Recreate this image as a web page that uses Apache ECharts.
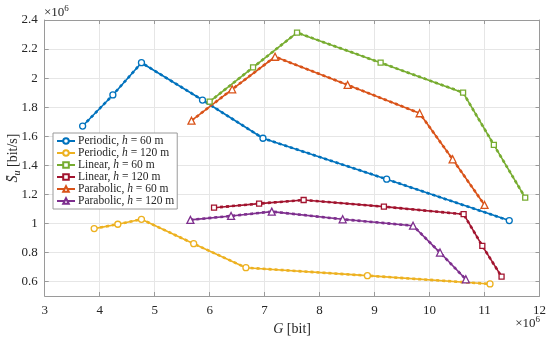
<!DOCTYPE html>
<html><head><meta charset="utf-8">
<script src="https://cdn.jsdelivr.net/npm/echarts@6/dist/echarts.min.js"></script>
<style>html,body{margin:0;padding:0;background:#fff}#c{width:550px;height:338px}</style>
</head><body><div id="c"></div>
<script>
// Values in units of 10^6 (G in bit, S_u in bit/s)
const seriesNames = ['Periodic, h = 60 m','Periodic, h = 120 m','Linear, h = 60 m','Linear, h = 120 m','Parabolic, h = 60 m','Parabolic, h = 120 m'];
const periodic60X = [3.69,4.24,4.76,5.87,6.97,9.22,11.45];
const periodic60Y = [1.670,1.884,2.106,1.849,1.586,1.304,1.019];
const periodic120X = [3.90,4.33,4.76,5.71,6.66,8.87,11.10];
const periodic120Y = [0.964,0.994,1.028,0.860,0.695,0.640,0.583];
const linear60X = [6.00,6.79,7.59,9.11,10.61,11.17,11.74];
const linear60Y = [1.838,2.074,2.313,2.106,1.900,1.540,1.177];
const linear120X = [6.08,6.90,7.71,9.17,10.62,10.96,11.31];
const linear120Y = [1.108,1.136,1.161,1.115,1.063,0.845,0.633];
const parabolic60X = [5.67,6.41,7.19,8.51,9.82,10.42,11.00];
const parabolic60Y = [1.707,1.923,2.147,1.953,1.758,1.441,1.127];
const parabolic120X = [5.65,6.39,7.13,8.42,9.70,10.19,10.66];
const parabolic120Y = [1.024,1.051,1.081,1.028,0.984,0.799,0.615];
const xTicks = [3,4,5,6,7,8,9,10,11,12];
const yTicks = [0.6,0.8,1,1.2,1.4,1.6,1.8,2,2.2,2.4];

const colors = ['#0072BD','#EDB120','#77AC30','#A2142F','#D95319','#7E2F8E'];
const symbols = ['circle','circle','rect','rect','triangle','triangle'];
const symSizes = [6,6,5,5,7,7];
const xs = [periodic60X,periodic120X,linear60X,linear120X,parabolic60X,parabolic120X];
const ys = [periodic60Y,periodic120Y,linear60Y,linear120Y,parabolic60Y,parabolic120Y];
const zip = (a,b)=>a.map((v,i)=>[v,b[i]]);

const FONT = 'Liberation Serif';
const series = [];
seriesNames.forEach((n,i)=>{
  const d = zip(xs[i], ys[i]);
  series.push({
    name:n, type:'line', data:d, xAxisIndex:0, yAxisIndex:0,
    symbol:symbols[i], symbolSize:symSizes[i], showSymbol:true,
    lineStyle:{color:colors[i], width:1.6},
    itemStyle:{color:'#fff', borderColor:colors[i], borderWidth:1.3},
    z:3, animation:false
  });
  series.push({
    name:n+' (sim)', type:'line', data:d, xAxisIndex:0, yAxisIndex:0,
    showSymbol:false, symbol:'none',
    lineStyle:{color:colors[i], width:2.6, type:[3,3]},
    z:2, animation:false, silent:true
  });
});

const axisCommon = {
  axisLine:{show:true, lineStyle:{color:'#9a9a9a', width:1}},
  axisTick:{show:true, inside:true, length:4, lineStyle:{color:'#9a9a9a'}},
};

const chart = echarts.init(document.getElementById('c'), null, {renderer:'canvas'});
chart.setOption({
  animation:false,
  backgroundColor:'#fff',
  color:colors,
  grid:{left:44.7, right:10.5, top:20, bottom:42, containLabel:false, outerBoundsMode:'none'},
  xAxis:[{
    type:'value', min:3, max:12, interval:1, position:'bottom',
    ...axisCommon,
    axisLabel:{color:'#262626', fontFamily:FONT, fontSize:13, margin:8},
    splitLine:{show:true, lineStyle:{color:'#e6e6e6'}},
    name:'{i|G} [bit]', nameLocation:'middle', nameGap:26, nameMoveOverlap:false,
    nameTextStyle:{color:'#262626', fontFamily:FONT, fontSize:14,
      rich:{i:{fontStyle:'italic', fontFamily:FONT, fontSize:14, color:'#262626'}}}
  },{
    type:'value', min:3, max:12, interval:1, position:'top',
    ...axisCommon, axisLabel:{show:false}, splitLine:{show:false}
  }],
  yAxis:[{
    type:'value', min:0.5, max:2.4, interval:0.2,
    ...axisCommon,
    axisLabel:{color:'#262626', fontFamily:FONT, fontSize:13, margin:7,
      formatter:v=>{ const r=Math.round(v*10)/10; return yTicks.some(t=>Math.abs(t-r)<1e-9)? String(r):''; },
      customValues: yTicks},
    axisTick:{show:true, inside:true, length:4, lineStyle:{color:'#9a9a9a'}, customValues: yTicks},
    splitLine:{show:true, lineStyle:{color:'#e6e6e6'}},
    name:'{i|S̄}{s|u} [bit/s]', nameLocation:'middle', nameGap:22, nameRotate:90, nameMoveOverlap:false,
    nameTextStyle:{color:'#262626', fontFamily:FONT, fontSize:14,
      rich:{i:{fontStyle:'italic', fontFamily:FONT, fontSize:14, color:'#262626'},
            s:{fontStyle:'italic', fontFamily:FONT, fontSize:10, color:'#262626', padding:[8,0,0,0]}}}
  },{
    type:'value', min:0.5, max:2.4, interval:0.2, position:'right',
    ...axisCommon, axisLabel:{show:false}, splitLine:{show:false},
    axisTick:{show:true, inside:true, length:4, lineStyle:{color:'#9a9a9a'}, customValues: yTicks}
  }],
  legend:{
    data:seriesNames.map(n=>({name:n})),
    orient:'vertical', left:53, top:133,
    backgroundColor:'#fff', borderColor:'#9a9a9a', borderWidth:1,
    padding:[2,3,2,3], itemGap:0, itemWidth:18, itemHeight:7,
    textStyle:{color:'#262626', fontFamily:FONT, fontSize:11.5, padding:[0,0,0,-2],
      rich:{i:{fontStyle:'italic', fontFamily:FONT, fontSize:11.5, color:'#262626'}}},
    formatter:n=>n.replace(' h = ',' {i|h} = ')
  },
  graphic:[
    {type:'text', left:44, top:4, style:{text:'×10{s|6}', fontFamily:FONT, fontSize:13, fill:'#262626',
      rich:{s:{fontSize:9, fontFamily:FONT, fill:'#262626', padding:[0,0,8,0]}}}},
    {type:'text', right:10, top:315, style:{text:'×10{s|6}', fontFamily:FONT, fontSize:13, fill:'#262626',
      rich:{s:{fontSize:9, fontFamily:FONT, fill:'#262626', padding:[0,0,8,0]}}}}
  ],
  series:series
});
</script></body></html>
